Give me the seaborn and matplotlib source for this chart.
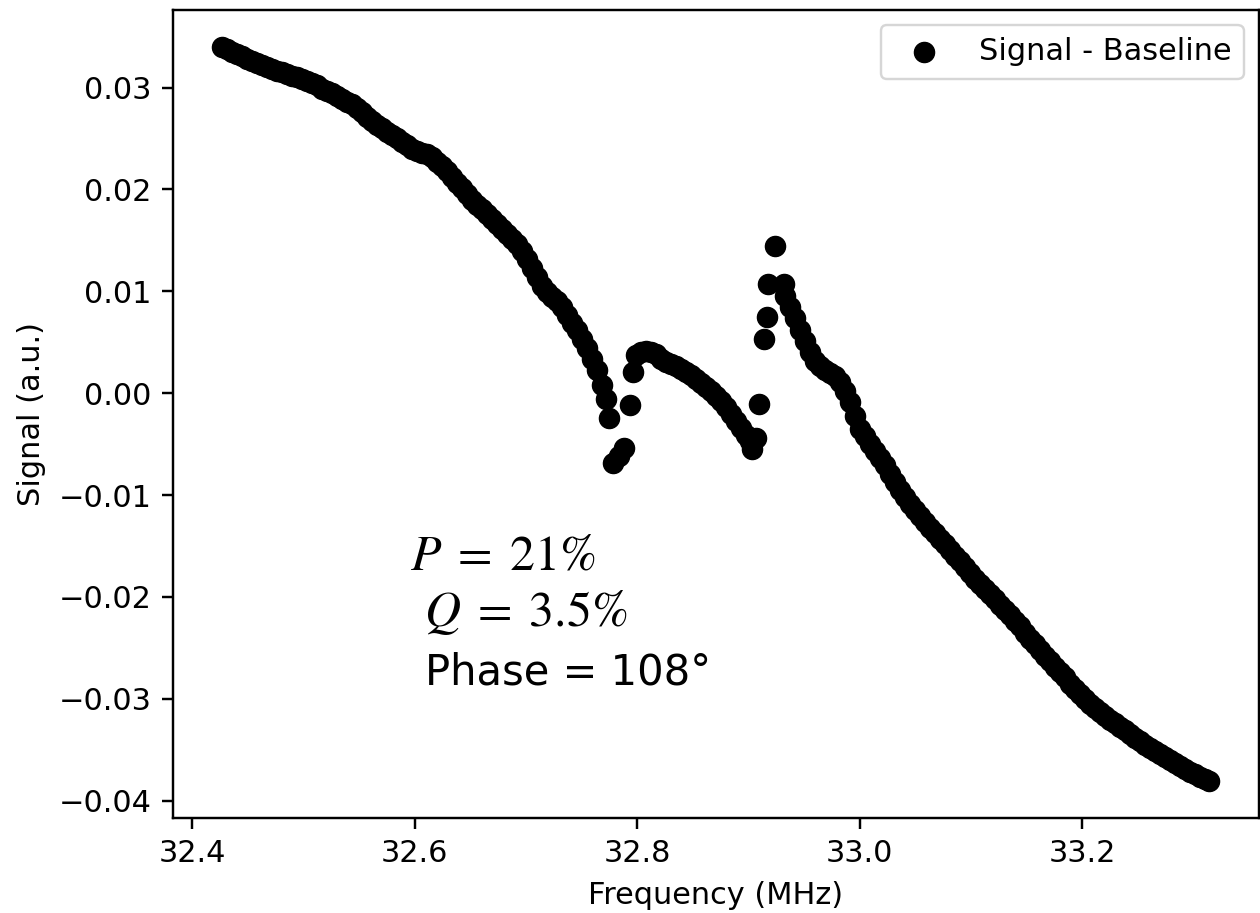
import numpy as np
import pandas as pd
import matplotlib
matplotlib.use("Agg")
import matplotlib.pyplot as plt
import seaborn as sns

# ---- data (frequency in MHz, signal in a.u.) ----
freq_low = [32.4266, 32.4310, 32.4355, 32.4400, 32.4445, 32.4490, 32.4535, 32.4580, 32.4625, 32.4670,
            32.4715, 32.4760, 32.4805, 32.4850, 32.4895, 32.4940, 32.4985, 32.5030, 32.5075, 32.5120,
            32.5165, 32.5210, 32.5255, 32.5300, 32.5345, 32.5390, 32.5435, 32.5480, 32.5525, 32.5570,
            32.5615, 32.5660, 32.5705, 32.5750, 32.5795, 32.5840, 32.5885, 32.5930, 32.5975, 32.6020,
            32.6065, 32.6110, 32.6155, 32.6200, 32.6245, 32.6290, 32.6335, 32.6380, 32.6425, 32.6470,
            32.6515, 32.6560, 32.6605, 32.6650, 32.6695, 32.6740, 32.6785, 32.6830, 32.6875, 32.6920,
            32.6965, 32.7010, 32.7055, 32.7100, 32.7145, 32.7190, 32.7235, 32.7280, 32.7325, 32.7370,
            32.7415, 32.7460, 32.7505, 32.7550, 32.7595, 32.7640, 32.7685, 32.7720, 32.7750]
sig_low = [0.0340, 0.0338, 0.0335, 0.0333, 0.0331, 0.0328, 0.0326, 0.0324, 0.0322, 0.0320,
           0.0318, 0.0316, 0.0315, 0.0313, 0.0311, 0.0310, 0.0308, 0.0306, 0.0304, 0.0302,
           0.0299, 0.0297, 0.0295, 0.0292, 0.0289, 0.0286, 0.0284, 0.0280, 0.0276, 0.0271,
           0.0267, 0.0263, 0.0260, 0.0256, 0.0253, 0.0250, 0.0247, 0.0244, 0.0240, 0.0238,
           0.0236, 0.0235, 0.0232, 0.0227, 0.0223, 0.0218, 0.0212, 0.0206, 0.0201, 0.0195,
           0.0190, 0.0185, 0.0181, 0.0176, 0.0171, 0.0166, 0.0161, 0.0156, 0.0151, 0.0146,
           0.0140, 0.0132, 0.0123, 0.0114, 0.0105, 0.0099, 0.0094, 0.0090, 0.0085, 0.0077,
           0.0069, 0.0062, 0.0053, 0.0044, 0.0034, 0.0023, 0.0008, -0.0006, -0.0024]

freq_dip1 = [32.7785, 32.7832, 32.7880, 32.7932, 32.7961]
sig_dip1 = [-0.0069, -0.0062, -0.0054, -0.0012, 0.0021]

freq_mid = [32.7990, 32.8035, 32.8080, 32.8125, 32.8170, 32.8215, 32.8260, 32.8305, 32.8350, 32.8395,
            32.8440, 32.8485, 32.8530, 32.8575, 32.8620, 32.8665, 32.8710, 32.8755, 32.8800, 32.8845,
            32.8890, 32.8935, 32.8980, 32.9010, 32.9032]
sig_mid = [0.0037, 0.0040, 0.0041, 0.0040, 0.0038, 0.0034, 0.0031, 0.0029, 0.0027, 0.0024,
           0.0021, 0.0018, 0.0014, 0.0010, 0.0006, 0.0002, -0.0003, -0.0008, -0.0014, -0.0020,
           -0.0027, -0.0034, -0.0041, -0.0047, -0.0055]

freq_dip2 = [32.9065, 32.9097, 32.9136, 32.9166, 32.9180, 32.9241, 32.9316]
sig_dip2 = [-0.0044, -0.0011, 0.0053, 0.0075, 0.0107, 0.0144, 0.0107]

freq_high = [32.9331, 32.9375, 32.9420, 32.9465, 32.9510, 32.9555, 32.9600, 32.9645, 32.9690, 32.9735,
             32.9780, 32.9825, 32.9870, 32.9915, 32.9960, 33.0005, 33.0050, 33.0095, 33.0140, 33.0185,
             33.0230, 33.0275, 33.0320, 33.0365, 33.0410, 33.0455, 33.0500, 33.0545, 33.0590, 33.0635,
             33.0680, 33.0725, 33.0770, 33.0815, 33.0860, 33.0905, 33.0950, 33.0995, 33.1040, 33.1085,
             33.1130, 33.1175, 33.1220, 33.1265, 33.1310, 33.1355, 33.1400, 33.1445, 33.1490, 33.1535,
             33.1580, 33.1625, 33.1670, 33.1715, 33.1760, 33.1805, 33.1850, 33.1895, 33.1940, 33.1985,
             33.2030, 33.2075, 33.2120, 33.2165, 33.2210, 33.2255, 33.2300, 33.2345, 33.2390, 33.2435,
             33.2480, 33.2525, 33.2570, 33.2615, 33.2660, 33.2705, 33.2750, 33.2795, 33.2840, 33.2885,
             33.2930, 33.2975, 33.3020, 33.3065, 33.3110, 33.3145]
sig_high = [0.0095, 0.0085, 0.0074, 0.0062, 0.0051, 0.0040, 0.0032, 0.0027, 0.0023, 0.0020,
            0.0017, 0.0011, 0.0002, -0.0009, -0.0022, -0.0035, -0.0042, -0.0050, -0.0057, -0.0064,
            -0.0071, -0.0079, -0.0087, -0.0095, -0.0102, -0.0109, -0.0115, -0.0121, -0.0126, -0.0132,
            -0.0137, -0.0143, -0.0148, -0.0154, -0.0160, -0.0165, -0.0171, -0.0177, -0.0182, -0.0187,
            -0.0192, -0.0197, -0.0202, -0.0208, -0.0213, -0.0218, -0.0224, -0.0229, -0.0235, -0.0241,
            -0.0246, -0.0252, -0.0258, -0.0263, -0.0269, -0.0274, -0.0279, -0.0285, -0.0290, -0.0295,
            -0.0300, -0.0305, -0.0309, -0.0313, -0.0317, -0.0321, -0.0324, -0.0328, -0.0331, -0.0335,
            -0.0338, -0.0341, -0.0345, -0.0348, -0.0351, -0.0354, -0.0357, -0.0360, -0.0363, -0.0366,
            -0.0369, -0.0372, -0.0374, -0.0377, -0.0379, -0.0381]

series_label = "Signal - Baseline"
x_label = "Frequency (MHz)"
y_label = "Signal (a.u.)"
annotations = [r"$P\;=\;21\%$", r"$Q\;=\;3.5\%$", "Phase = 108°"]

df = pd.DataFrame({
    "freq": freq_low + freq_dip1 + freq_mid + freq_dip2 + freq_high,
    "signal": sig_low + sig_dip1 + sig_mid + sig_dip2 + sig_high,
})

# ---- styling ----
sns.set_style("ticks")
scale = 2.19
plt.rcParams.update({
    "font.family": ["DejaVu Sans"],
    "font.size": 10 * scale,
    "axes.linewidth": 0.8 * scale,
    "xtick.major.size": 3.5 * scale,
    "ytick.major.size": 3.5 * scale,
    "xtick.major.width": 0.8 * scale,
    "ytick.major.width": 0.8 * scale,
    "xtick.major.pad": 3.5 * scale,
    "ytick.major.pad": 3.5 * scale,
    "xtick.labelsize": 10 * scale,
    "ytick.labelsize": 10 * scale,
    "axes.labelsize": 10 * scale,
    "axes.labelpad": 4.0 * scale,
    "legend.fontsize": 10 * scale,
    "axes.edgecolor": "black",
    "xtick.color": "black",
    "ytick.color": "black",
    "text.color": "black",
    "axes.labelcolor": "black",
    "mathtext.fontset": "stix",
})

fig = plt.figure(figsize=(12.6, 9.13), dpi=100)
ax = fig.add_axes([0.137, 0.104, 0.862, 0.885])

sns.scatterplot(data=df, x="freq", y="signal", color="black", s=210,
                edgecolor="black", linewidth=1.0, label=series_label, ax=ax)

ax.set_xlabel(x_label)
ax.set_ylabel(y_label)
ax.set_xticks([32.4, 32.6, 32.8, 33.0, 33.2])
ax.set_yticks([-0.04, -0.03, -0.02, -0.01, 0.0, 0.01, 0.02, 0.03])
for s in ax.spines.values():
    s.set_visible(True)
    s.set_color("black")

leg = ax.legend(loc="upper right", frameon=True, fancybox=True, framealpha=0.8,
                borderaxespad=0.5)
leg.get_frame().set_edgecolor("0.8")
leg.get_frame().set_linewidth(0.8 * scale)

# annotations (placed in figure pixel coordinates)
W, H = 1260, 913
fig.text(410 / W, 1 - 570 / H, annotations[0], fontsize=36, ha="left", va="baseline")
fig.text(424 / W, 1 - 626 / H, annotations[1], fontsize=36, ha="left", va="baseline")
fig.text(425 / W, 1 - 684 / H, annotations[2], fontsize=30, ha="left", va="baseline",
         family=["DejaVu Sans"])

fig.savefig("out.png", dpi=100)
